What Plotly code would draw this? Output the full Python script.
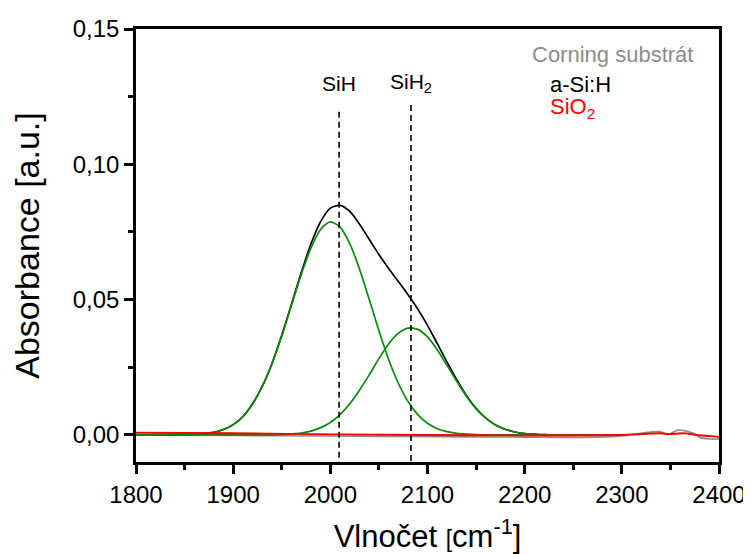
import plotly.graph_objects as go

# ---- data ----
wavenumber_fit = [1800, 1810, 1820, 1830, 1840, 1850, 1860, 1870, 1880, 1890,
                  1900, 1910, 1920, 1930, 1940, 1950, 1960, 1970, 1980, 1990,
                  2000, 2010, 2020, 2030, 2040, 2050, 2060, 2070, 2080, 2090,
                  2100, 2110, 2120, 2130, 2140, 2150, 2160, 2170, 2180, 2190,
                  2200, 2210, 2220, 2230, 2240, 2250, 2260, 2270, 2280, 2290,
                  2300]

sih_fit = [0.0000, 0.0000, 0.0000, 0.0000, 0.0000, 0.0001, 0.0002, 0.0005, 0.0010, 0.0020,
           0.0038, 0.0068, 0.0115, 0.0180, 0.0264, 0.0366, 0.0479, 0.0592, 0.0690, 0.0759,
           0.0787, 0.0768, 0.0707, 0.0613, 0.0501, 0.0385, 0.0279, 0.0191, 0.0123, 0.0075,
           0.0043, 0.0023, 0.0012, 0.0006, 0.0003, 0.0001, 0.0000, 0.0000, 0.0000, 0.0000,
           0.0000, 0.0000, 0.0000, 0.0000, 0.0000, 0.0000, 0.0000, 0.0000, 0.0000, 0.0000,
           0.0000]

sih2_fit = [0.0000, 0.0000, 0.0000, 0.0000, 0.0000, 0.0000, 0.0000, 0.0000, 0.0000, 0.0000,
            0.0000, 0.0000, 0.0000, 0.0000, 0.0000, 0.0002, 0.0004, 0.0007, 0.0014, 0.0027,
            0.0046, 0.0075, 0.0115, 0.0165, 0.0222, 0.0282, 0.0336, 0.0376, 0.0395, 0.0390,
            0.0362, 0.0315, 0.0258, 0.0199, 0.0143, 0.0097, 0.0062, 0.0037, 0.0021, 0.0011,
            0.0005, 0.0003, 0.0001, 0.0000, 0.0000, 0.0000, 0.0000, 0.0000, 0.0000, 0.0000,
            0.0000]

asih_spectrum = [0.0000, 0.0000, 0.0000, 0.0000, 0.0000, 0.0001, 0.0002, 0.0005, 0.0010, 0.0020,
                 0.0038, 0.0068, 0.0115, 0.0180, 0.0264, 0.0368, 0.0483, 0.0599, 0.0705, 0.0788,
                 0.0838, 0.0848, 0.0826, 0.0779, 0.0723, 0.0667, 0.0615, 0.0567, 0.0518, 0.0465,
                 0.0405, 0.0338, 0.0270, 0.0205, 0.0146, 0.0098, 0.0062, 0.0037, 0.0021, 0.0011,
                 0.0005, 0.0003, 0.0001, 0.0000, 0.0000, 0.0000, 0.0000, 0.0000, 0.0000, 0.0000,
                 0.0000]

wavenumber_corning = [1800, 1900, 2000, 2050, 2100, 2200, 2250, 2290, 2300, 2319,
                      2339, 2348, 2358, 2374, 2380, 2391, 2400]
corning = [0.0000, -0.0002, -0.0004, -0.0005, -0.0006, -0.0008, -0.0009, -0.0006, -0.0004, 0.0006,
           0.0012, 0.0002, 0.0018, 0.0006, -0.0009, -0.0015, -0.0015]

wavenumber_sio2 = [1800, 1900, 2010, 2100, 2200, 2247, 2298, 2320, 2339, 2349,
                   2363, 2377, 2390, 2400]
sio2 = [0.0008, 0.0006, 0.0002, 0.0000, -0.0002, -0.0002, 0.0000, 0.0003, 0.0006, 0.0003,
        0.0006, 0.0000, -0.0004, -0.0007]

peak_positions = [2009, 2083]
peak_line_tops = [0.1194, 0.1219]
peak_labels = ["SiH", "SiH<sub>2</sub>"]
peak_label_level = 0.130

legend_names = ["Corning substrát", "a-Si:H", "SiO<sub>2</sub>"]
legend_colors = ["#8c8c8c", "#000000", "#ff0000"]

x_tickvals = [1800, 1900, 2000, 2100, 2200, 2300, 2400]
x_ticktext = ["1800", "1900", "2000", "2100", "2200", "2300", "2400"]
y_tickvals = [0.00, 0.05, 0.10, 0.15]
y_ticktext = ["0,00", "0,05", "0,10", "0,15"]

FONT = "Liberation Sans, Arial, sans-serif"
GREEN = "#0a8a0a"

fig = go.Figure()

fig.add_trace(go.Scatter(x=wavenumber_corning, y=corning, mode="lines",
                         line=dict(color="#8c8c8c", width=1.7, shape="spline", smoothing=0.8),
                         showlegend=False, hoverinfo="skip"))
fig.add_trace(go.Scatter(x=wavenumber_fit, y=asih_spectrum, mode="lines",
                         line=dict(color="#000000", width=1.7, shape="spline", smoothing=0.8),
                         showlegend=False))
fig.add_trace(go.Scatter(x=wavenumber_fit, y=sih_fit, mode="lines",
                         line=dict(color=GREEN, width=1.7, shape="spline", smoothing=0.8),
                         showlegend=False))
fig.add_trace(go.Scatter(x=wavenumber_fit, y=sih2_fit, mode="lines",
                         line=dict(color=GREEN, width=1.7, shape="spline", smoothing=0.8),
                         showlegend=False))
fig.add_trace(go.Scatter(x=wavenumber_sio2, y=sio2, mode="lines",
                         line=dict(color="#ff0000", width=1.9, shape="spline", smoothing=0.8),
                         showlegend=False))

# dashed peak-position lines
for pos, top, lab in zip(peak_positions, peak_line_tops, peak_labels):
    fig.add_trace(go.Scatter(x=[pos, pos], y=[top, -0.01], mode="lines",
                             line=dict(color="#000000", width=1.6, dash="6px,4px"),
                             showlegend=False, hoverinfo="skip"))
    fig.add_annotation(x=pos, y=peak_label_level, text=lab, showarrow=False,
                       xanchor="center", yanchor="middle",
                       font=dict(family=FONT, size=21, color="#000000"))

# text legend (top right)
legend_pos = [(0.676, 0.94), (0.707, 0.871), (0.707, 0.818)]
for (lx, ly), name, col in zip(legend_pos, legend_names, legend_colors):
    fig.add_annotation(x=lx, y=ly, xref="paper", yref="paper", text=name,
                       showarrow=False, xanchor="left", yanchor="middle",
                       font=dict(family=FONT, size=22, color=col))

axis_common = dict(showline=True, linecolor="#000000", linewidth=2.5, mirror=True,
                   ticks="outside", ticklen=9, tickwidth=2.5, tickcolor="#000000",
                   showgrid=False, zeroline=False, automargin=False,
                   tickfont=dict(family=FONT, size=24, color="#000000"))

fig.update_xaxes(range=[1800, 2400], tickvals=x_tickvals, ticktext=x_ticktext,
                 minor=dict(ticks="outside", ticklen=5, tickwidth=2.5, dtick=50,
                            tick0=1800, tickcolor="#000000"),
                 title=dict(text="Vlnočet <span style='font-size:23px'>[</span>cm<sup>-1</sup>]",
                            font=dict(family=FONT, size=31, color="#000000"), standoff=20),
                 **axis_common)
fig.update_yaxes(range=[-0.01, 0.15], tickvals=y_tickvals, ticktext=y_ticktext,
                 minor=dict(ticks="outside", ticklen=5, tickwidth=2.5, dtick=0.025,
                            tick0=0, tickcolor="#000000"),
                 title=dict(text="Absorbance [a.u.]",
                            font=dict(family=FONT, size=34, color="#000000"), standoff=27),
                 **axis_common)

# the page adds an ~8px body margin, so the figure is sized to fit inside the window
fig.update_layout(width=743, height=546,
                  margin=dict(l=128, r=32, t=21, b=92),
                  paper_bgcolor="#ffffff", plot_bgcolor="#ffffff",
                  showlegend=False)

fig.write_html("out.html")
